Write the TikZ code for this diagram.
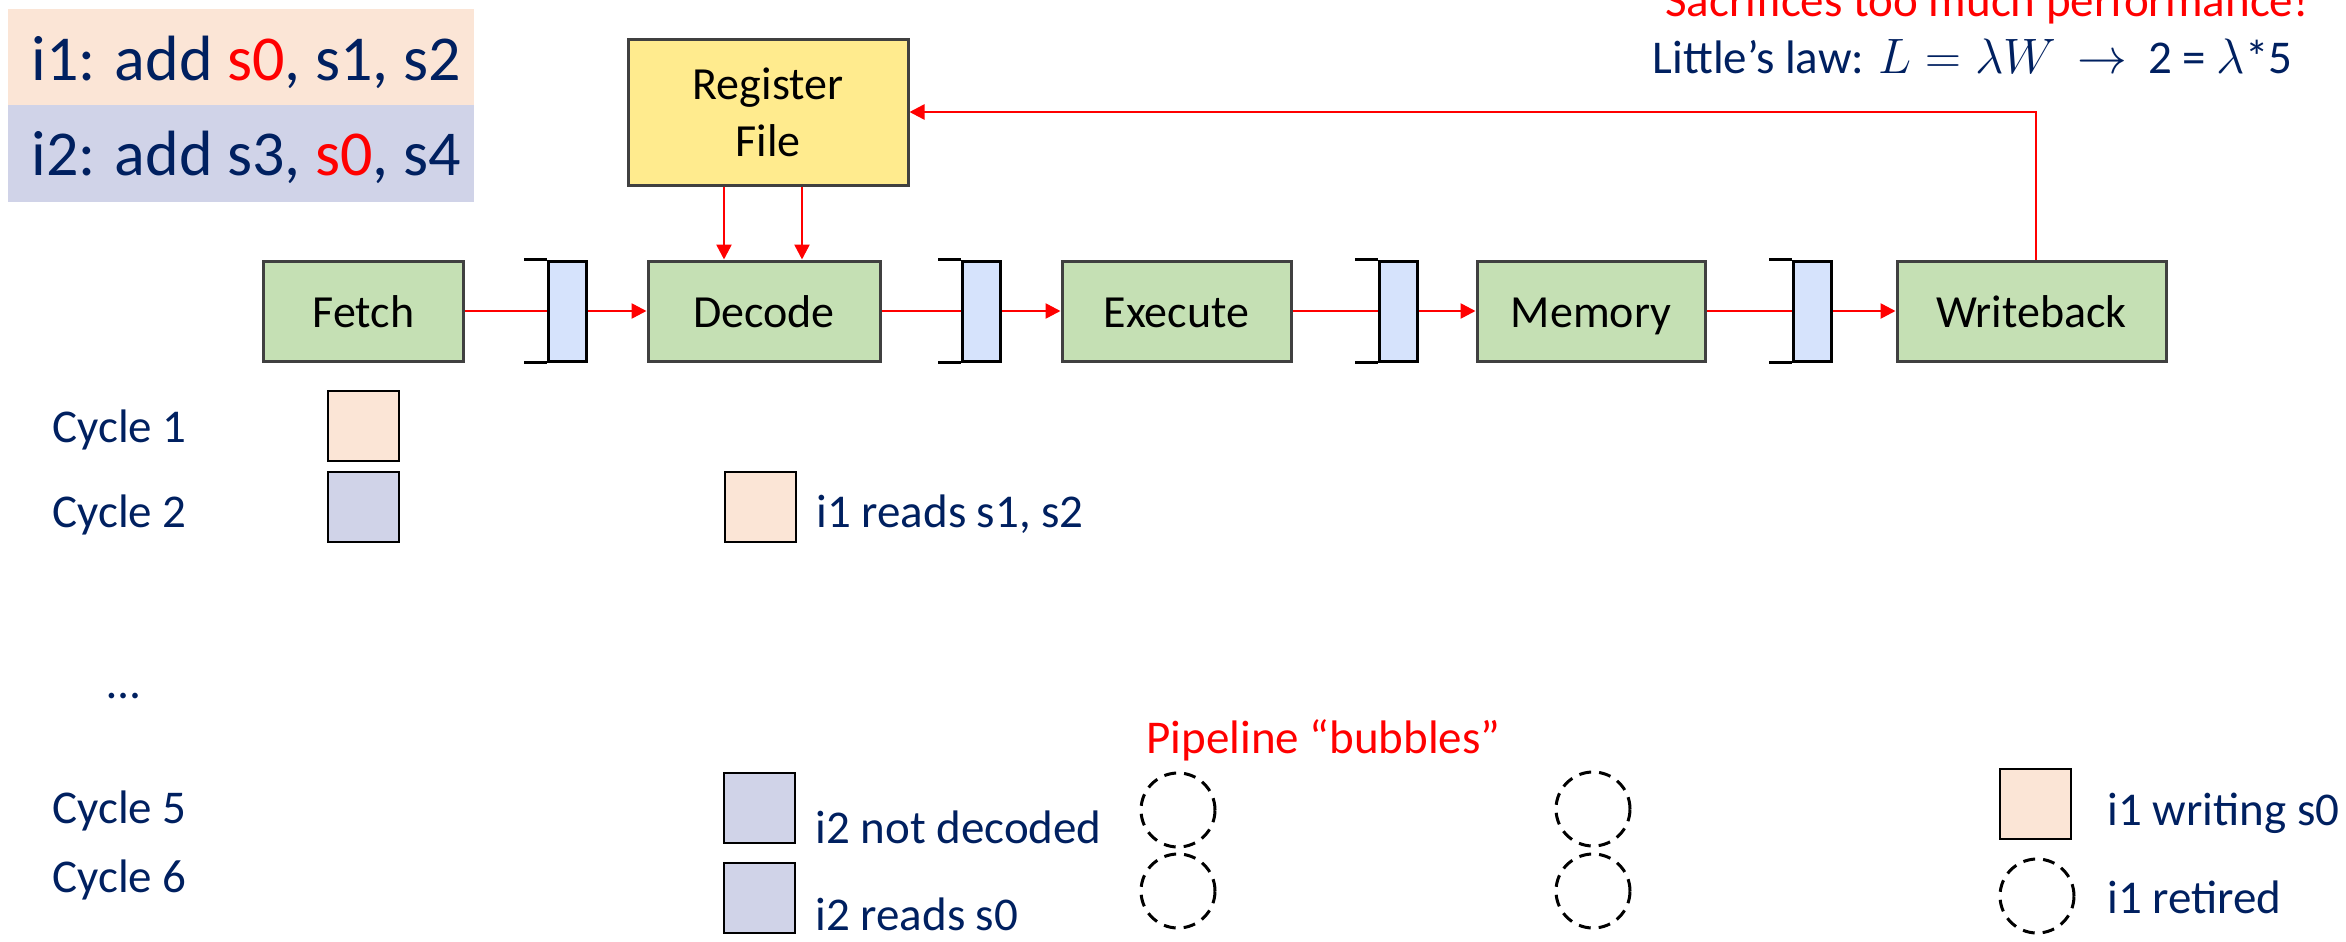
\documentclass[tikz,border=0pt]{standalone}
\usepackage{fontspec}
\setmainfont{Carlito}
\usetikzlibrary{arrows.meta}
\definecolor{navy}{HTML}{002060}
\definecolor{hot}{HTML}{FF0000}
\definecolor{peach}{HTML}{FBE5D6}
\definecolor{lav}{HTML}{D0D3E8}
\definecolor{stagefill}{HTML}{C5E0B4}
\definecolor{latchfill}{HTML}{D6E3FC}
\definecolor{rffill}{HTML}{FFEB8E}
\definecolor{edge}{HTML}{404040}
\begin{document}
\begin{tikzpicture}[x=0.5pt,y=-0.5pt,
  stage/.style={draw=edge, line width=1.5pt, fill=stagefill, minimum width=#1,
    minimum height=50pt, inner sep=0pt, font=\fontsize{23}{28}\selectfont,
    text height=16pt, text depth=0pt},
  latch/.style={draw=black, line width=1.5pt, fill=latchfill, minimum width=19pt,
    minimum height=50pt, inner sep=0pt},
  wire/.style={draw=hot, line width=1.3pt},
  tip/.style={-{Triangle[length=7.5pt,width=7.5pt]}},
  lbl/.style={anchor=base west, inner sep=0pt, text=navy, font=\fontsize{23.5}{28}\selectfont},
  sq/.style={draw=black, line width=1pt, minimum width=35.5pt, minimum height=35pt, inner sep=0pt},
  bubble/.style={circle, draw=black, line width=1.5pt, dash pattern=on 6pt off 4pt,
    minimum size=37pt, inner sep=0pt},
  instr/.style={minimum width=233pt, inner sep=0pt}]
\useasboundingbox (0,0) rectangle (2346,942);

% instruction listing
\node[instr, fill=peach, minimum height=48pt] (ibox1) at (241,57) {};
\node[instr, fill=lav, minimum height=48.5pt] (ibox2) at (241,153.5) {};
\node[lbl, font=\fontsize{32}{38}\selectfont] (ins1) at (31,80) {i1: add \textcolor{hot}{s0}, s1, s2};
\node[lbl, font=\fontsize{32}{38}\selectfont] (ins2) at (31,175) {i2: add s3, \textcolor{hot}{s0}, s4};

% note at the top right
\node[anchor=base east, inner sep=0pt, text=hot, font=\fontsize{23.5}{28}\selectfont] (note1) at (2309,17) {Sacrifices too much performance!};
\node[anchor=base east, inner sep=0pt, text=navy, font=\fontsize{23.5}{28}\selectfont] (note2) at (2293,73)
  {Little’s law: $L=\lambda W$~~$\rightarrow$~~2 = $\lambda$*5};

% register file
\node[draw=edge, line width=1.5pt, fill=rffill, minimum width=140pt, minimum height=73pt,
  inner sep=0pt, align=center, font=\fontsize{23}{28.5}\selectfont] (rf) at (768,112) {Register\\File};

% pipeline stages and latches
\node[stage=100pt] (fetch) at (363.5,311) {Fetch};
\node[stage=116pt] (decode) at (764,311) {Decode};
\node[stage=114.5pt] (execute) at (1176.5,311) {Execute};
\node[stage=114pt] (memory) at (1591,311) {Memory};
\node[stage=134.5pt] (wb) at (2031.5,311) {Writeback};

\foreach \n/\x in {l1/567, l2/981, l3/1398, l4/1812} {
  \node[latch] (\n) at (\x,311) {};
  \draw[line width=1.5pt] (\n.north west) -- ++(-23,0);
  \draw[line width=1.5pt] (\n.south west) -- ++(-23,0);
}

\draw[wire] (fetch.east) -- (l1.west);
\draw[wire,tip] (l1.east) -- (decode.west);
\draw[wire] (decode.east) -- (l2.west);
\draw[wire,tip] (l2.east) -- (execute.west);
\draw[wire] (execute.east) -- (l3.west);
\draw[wire,tip] (l3.east) -- (memory.west);
\draw[wire] (memory.east) -- (l4.west);
\draw[wire,tip] (l4.east) -- (wb.west);

\draw[wire,tip] ([xshift=-22pt]rf.south) -- ([xshift=-22pt]rf.south |- decode.north);
\draw[wire,tip] ([xshift=17pt]rf.south) -- ([xshift=17pt]rf.south |- decode.north);
\draw[wire,tip] ([xshift=2.25pt]wb.north) |- (rf.east);

% cycle rows
\node[lbl] (c1) at (52,442) {Cycle 1};
\node[lbl] (c2) at (52,527) {Cycle 2};
\node[lbl] (dots) at (107,698) {…};
\node[lbl] (c5) at (52,823) {Cycle 5};
\node[lbl] (c6) at (52,892) {Cycle 6};

\node[sq, fill=peach] (f1) at (363.5,426) {};
\node[sq, fill=lav] (f2) at (363.5,507) {};
\node[sq, fill=peach] (d2) at (760,507) {};
\node[lbl] (t2) at (816,527) {i1 reads s1, s2};

\node[sq, fill=lav] (d5) at (759,808) {};
\node[lbl] (t5) at (815,843) {i2 not decoded};
\node[sq, fill=lav] (d6) at (759,898) {};
\node[lbl] (t6) at (815,930) {i2 reads s0};

\node[lbl, text=hot] (bub) at (1146,753) {Pipeline “bubbles”};
\node[bubble] (e5) at (1178,810) {};
\node[bubble] (e6) at (1178,891) {};
\node[bubble] (m5) at (1593,809) {};
\node[bubble] (m6) at (1593,891) {};

\node[sq, fill=peach] (w5) at (2035.5,804) {};
\node[lbl] (tw5) at (2107,825) {i1 writing s0};
\node[bubble] (w6) at (2037,896) {};
\node[lbl] (tw6) at (2107,913) {i1 retired};
\end{tikzpicture}
\end{document}
